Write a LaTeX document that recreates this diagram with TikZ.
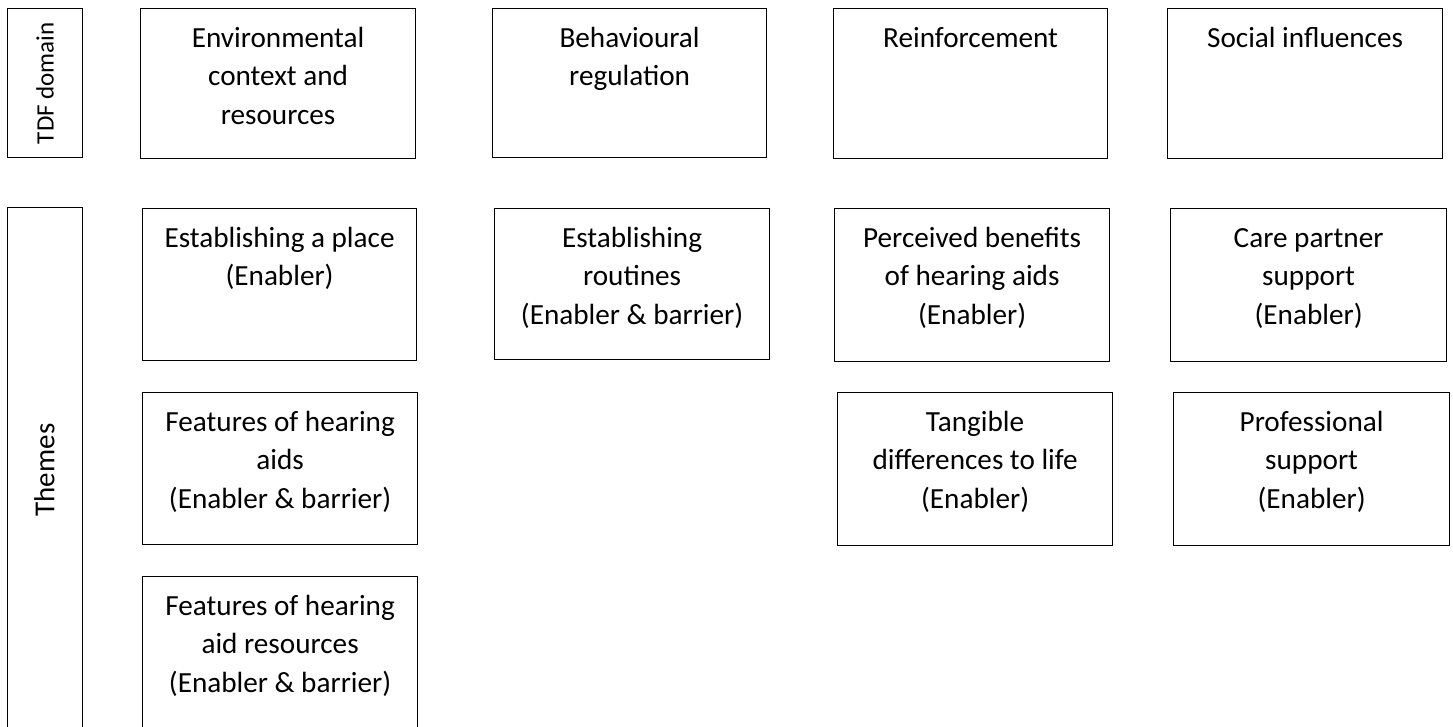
\documentclass[tikz,border=0pt]{standalone}
\usepackage{fontspec}
\setmainfont{Carlito}
\usepackage{tikz}
\usetikzlibrary{positioning,calc}

\begin{document}
\begin{tikzpicture}[x=1pt,y=-1pt,
    box/.style={draw, line width=1.2pt, anchor=north west, inner sep=0pt},
    txt/.style={anchor=north, align=center, inner sep=0pt,
        font=\fontsize{29.2}{38.5}\selectfont},
    side/.style={rotate=90, inner sep=0pt}]
    \useasboundingbox (0,0) rectangle (1453,726);
    \clip (0,0) rectangle (1453,726);

    % Left column labels
    \node[box, minimum width=75pt, minimum height=149pt] (tdf) at (7,8) {};
    \node[side, font=\fontsize{25}{30}\selectfont] (tdfT) at (tdf.center) {TDF domain};
    \node[box, minimum width=75pt, minimum height=540pt] (themes) at (7,207) {};
    \node[side, font=\fontsize{29}{34}\selectfont] (themesT) at (7+37.5,470) {Themes};

    % TDF domains
    \node[box, minimum width=275pt, minimum height=150pt] (env) at (140,8) {};
    \node[txt] (envT) at ([yshift=-12pt]env.north) {\strut Environmental\\context and\\resources};
    \node[box, minimum width=274pt, minimum height=149pt] (behav) at (492,8) {};
    \node[txt] (behavT) at ([yshift=-12pt]behav.north) {\strut Behavioural\\regulation};
    \node[box, minimum width=274pt, minimum height=150pt] (reinf) at (833,8) {};
    \node[txt] (reinfT) at ([yshift=-12pt]reinf.north) {\strut Reinforcement};
    \node[box, minimum width=275pt, minimum height=150pt] (social) at (1167,8) {};
    \node[txt] (socialT) at ([yshift=-12pt]social.north) {\strut Social influences};

    % Themes, environmental context
    \node[box, minimum width=274pt, minimum height=152pt] (place) at (142,208) {};
    \node[txt] (placeT) at ([yshift=-12pt]place.north) {\strut Establishing a place\\(Enabler)};
    \node[box, minimum width=275pt, minimum height=152pt] (features) at (142,392) {};
    \node[txt] (featuresT) at ([yshift=-12pt]features.north) {\strut Features of hearing\\aids\\(Enabler \& barrier)};
    \node[box, minimum width=275pt, minimum height=170pt] (resources) at (142,576) {};
    \node[txt] (resourcesT) at ([yshift=-12pt]resources.north) {\strut Features of hearing\\aid resources\\(Enabler \& barrier)};

    % Themes, behavioural regulation
    \node[box, minimum width=275pt, minimum height=151pt] (routine) at (494,208) {};
    \node[txt] (routineT) at ([yshift=-12pt]routine.north) {\strut Establishing\\routines\\(Enabler \& barrier)};

    % Themes, reinforcement
    \node[box, minimum width=275pt, minimum height=153pt] (benefit) at (834,208) {};
    \node[txt] (benefitT) at ([yshift=-12pt]benefit.north) {\strut Perceived benefits\\of hearing aids\\(Enabler)};
    \node[box, minimum width=275pt, minimum height=153pt] (tangible) at (837,392) {};
    \node[txt] (tangibleT) at ([yshift=-12pt]tangible.north) {\strut Tangible\\differences to life\\(Enabler)};

    % Themes, social influences
    \node[box, minimum width=276pt, minimum height=153pt] (carer) at (1170,208) {};
    \node[txt] (carerT) at ([yshift=-12pt]carer.north) {\strut Care partner\\support\\(Enabler)};
    \node[box, minimum width=276pt, minimum height=153pt] (profsup) at (1173,392) {};
    \node[txt] (profsupT) at ([yshift=-12pt]profsup.north) {\strut Professional\\support\\(Enabler)};
\end{tikzpicture}
\end{document}
